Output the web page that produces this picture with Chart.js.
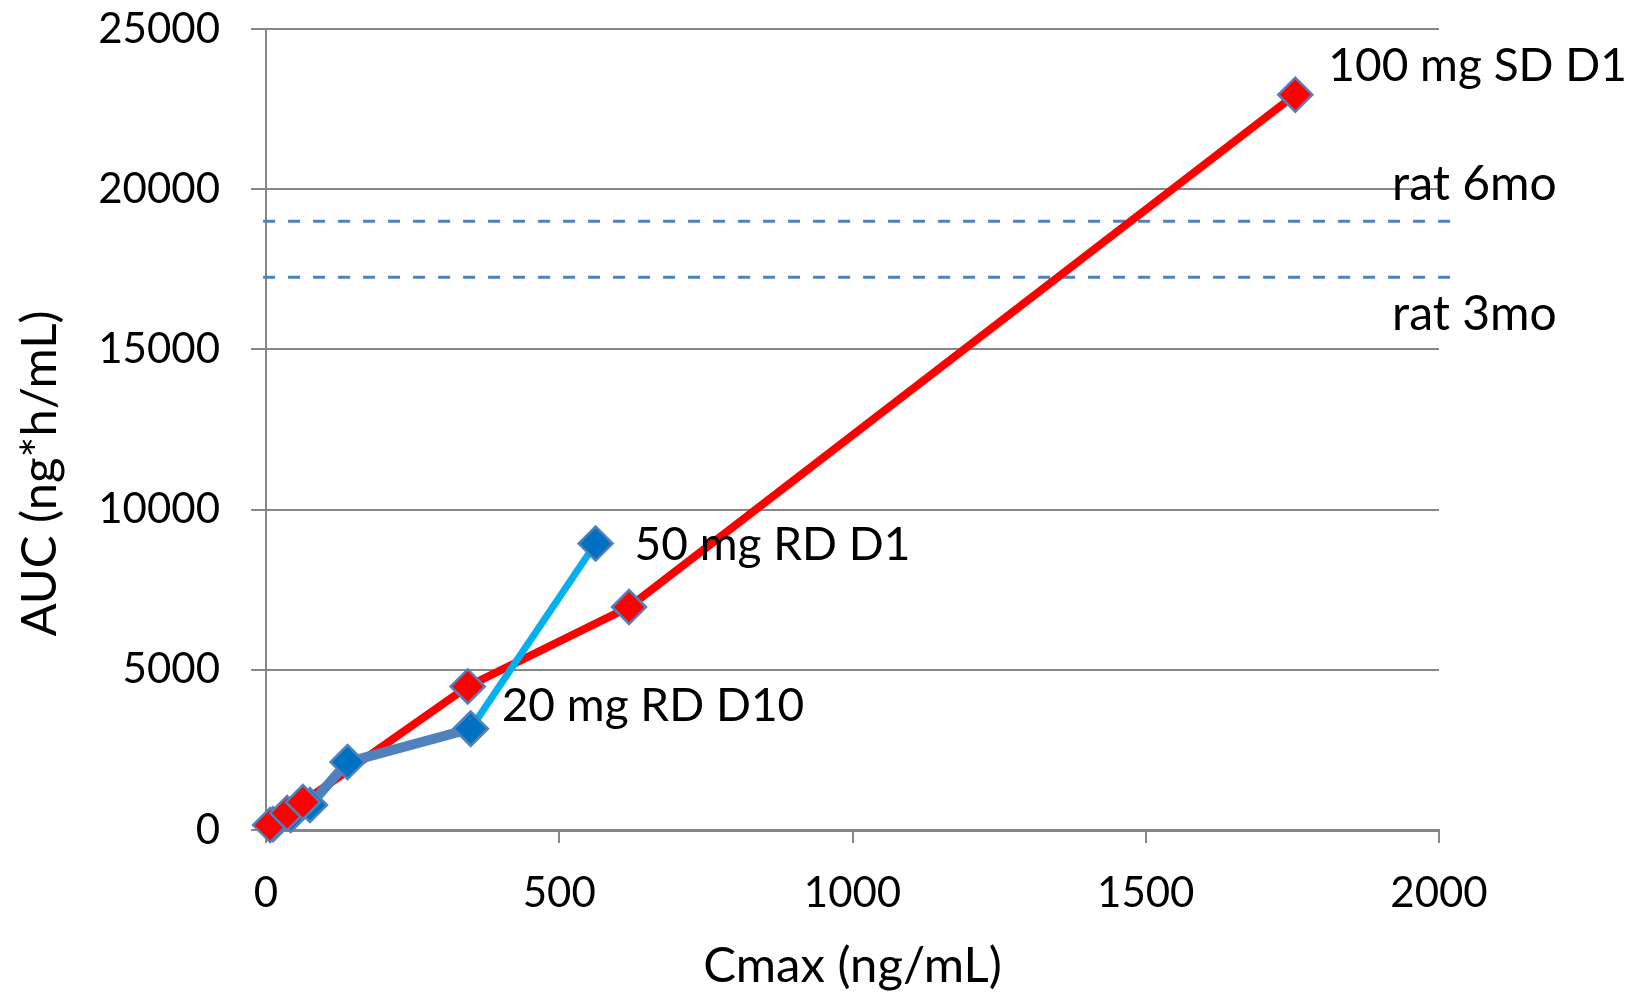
<!DOCTYPE html>
<html>
<head>
<meta charset="utf-8">
<script src="https://cdn.jsdelivr.net/npm/chart.js@4.4.1/dist/chart.umd.min.js"></script>
<style>
html,body{margin:0;padding:0;background:#fff;}
#wrap{width:1632px;height:998px;position:relative;}
</style>
</head>
<body>
<div id="wrap"><canvas id="c" width="1632" height="998"></canvas></div>
<script>
// ---- data ----
const xTicks = [0, 500, 1000, 1500, 2000];
const yTicks = [0, 5000, 10000, 15000, 20000, 25000];

// SD (single dose) series - red
const sdCmax = [7, 36, 63, 344, 619, 1755];
const sdAuc  = [155, 530, 870, 4480, 6960, 22950];

// RD D10 series - blue
const rd10Cmax = [12, 42, 75, 139, 349];
const rd10Auc  = [180, 470, 780, 2120, 3160];

// RD D1 link - light blue
const rd1Cmax = [349, 562];
const rd1Auc  = [3160, 8940];

// rat exposure reference levels
const ratLabels = ['rat 6mo', 'rat 3mo'];
const ratAuc = [19000, 17250];
const ratCmaxRange = [-5, 2030];

// point annotations
const pointLabels = ['100 mg SD D1', '50 mg RD D1', '20 mg RD D10'];
const pointLabelCmax = [1755, 562, 349];
const pointLabelAuc = [22950, 8940, 3160];

const xTitle = 'Cmax (ng/mL)';
const yTitle = 'AUC (ng*h/mL)';

// ---- build ----
const pts = (xs, ys) => xs.map((x, i) => ({x: x, y: ys[i]}));
const FONT = 'Lato, "Open Sans", sans-serif';

const RED = '#FF0000', BLUE_LINE = '#4F81BD', BLUE_FILL = '#0070C0', LIGHT = '#00B0F0';

// listed bottom-most first; reversed below because Chart.js paints dataset 0 last (on top)
const layers = [];
ratAuc.forEach((v) => {
  layers.push({
    data: pts(ratCmaxRange, [v, v]),
    borderColor: '#4F81BD', borderWidth: 3, borderDash: [12, 13],
    pointRadius: 0, clip: false, showLine: true, fill: false
  });
});
layers.push({data: pts(sdCmax, sdAuc), borderColor: RED, borderWidth: 8, pointRadius: 0, showLine: true});
layers.push({data: pts(rd10Cmax, rd10Auc), borderColor: BLUE_LINE, borderWidth: 10, pointRadius: 0, showLine: true});
layers.push({data: pts(rd1Cmax, rd1Auc), borderColor: LIGHT, borderWidth: 7, pointRadius: 0, showLine: true});
const mk = {showLine: false, pointStyle: 'rectRot', pointRadius: 17, pointBorderColor: BLUE_LINE, pointBorderWidth: 2.5, clip: false};
layers.push(Object.assign({data: pts(rd1Cmax, rd1Auc), pointBackgroundColor: BLUE_FILL}, mk));
layers.push(Object.assign({data: pts(rd10Cmax, rd10Auc), pointBackgroundColor: BLUE_FILL}, mk));
layers.push(Object.assign({data: pts(sdCmax, sdAuc), pointBackgroundColor: RED}, mk));
const datasets = layers.slice().reverse();

const labelOffsets = [[33, -29], [39, 2], [31, -23]];
const ratLabelCmax = [1920, 1920];
const ratLabelOffsets = [-37, 37];

const textPlugin = {
  id: 'texts',
  afterDatasetsDraw(chart) {
    const ctx = chart.ctx, xs = chart.scales.x, ys = chart.scales.y;
    ctx.save();
    ctx.font = '46px ' + FONT;
    ctx.fillStyle = '#000';
    ctx.textAlign = 'left';
    ctx.textBaseline = 'middle';
    pointLabels.forEach((t, i) => {
      ctx.fillText(t, xs.getPixelForValue(pointLabelCmax[i]) + labelOffsets[i][0],
                      ys.getPixelForValue(pointLabelAuc[i]) + labelOffsets[i][1]);
    });
    ctx.font = '48px ' + FONT;
    ratLabels.forEach((t, i) => {
      ctx.fillText(t, xs.getPixelForValue(ratLabelCmax[i]), ys.getPixelForValue(ratAuc[i]) + ratLabelOffsets[i]);
    });
    // y axis title (placed a bit below axis centre, as in the original)
    ctx.font = '49px ' + FONT;
    ctx.textAlign = 'center';
    ctx.translate(40, (chart.chartArea.top + chart.chartArea.bottom) / 2 + 44);
    ctx.rotate(-Math.PI / 2);
    ctx.fillText(yTitle, 0, 0);
    ctx.restore();
  }
};

new Chart(document.getElementById('c'), {
  type: 'scatter',
  data: {datasets: datasets},
  plugins: [textPlugin],
  options: {
    responsive: false,
    animation: false,
    events: [],
    layout: {padding: {left: 0, right: 193, top: 29, bottom: 0}},
    plugins: {legend: {display: false}, tooltip: {enabled: false}},
    scales: {
      x: {
        type: 'linear', min: 0, max: 2000,
        afterBuildTicks: (s) => { s.ticks = xTicks.map(v => ({value: v})); },
        afterFit: (s) => { s.height = 168; s.paddingLeft = 0; s.paddingRight = 0; },
        grid: {drawOnChartArea: false, drawTicks: true, tickLength: 13, color: '#878787', lineWidth: 2},
        border: {display: true, color: '#878787', width: 3},
        ticks: {color: '#000', font: {family: FONT, size: 42}, padding: 25, maxRotation: 0, callback: v => String(v)},
        title: {display: true, text: xTitle, color: '#000', font: {family: FONT, size: 49}, padding: {top: 0, bottom: 2}}
      },
      y: {
        type: 'linear', min: 0, max: 25000,
        afterBuildTicks: (s) => { s.ticks = yTicks.map(v => ({value: v})); },
        afterFit: (s) => { s.width = 266; s.paddingTop = 0; s.paddingBottom = 0; },
        grid: {drawOnChartArea: true, drawTicks: true, tickLength: 15, color: '#878787', lineWidth: 2},
        border: {display: true, color: '#878787', width: 2},
        ticks: {color: '#000', font: {family: FONT, size: 42}, padding: 31, callback: v => String(v)},
        title: {display: false, text: yTitle}
      }
    }
  }
});
</script>
</body>
</html>
